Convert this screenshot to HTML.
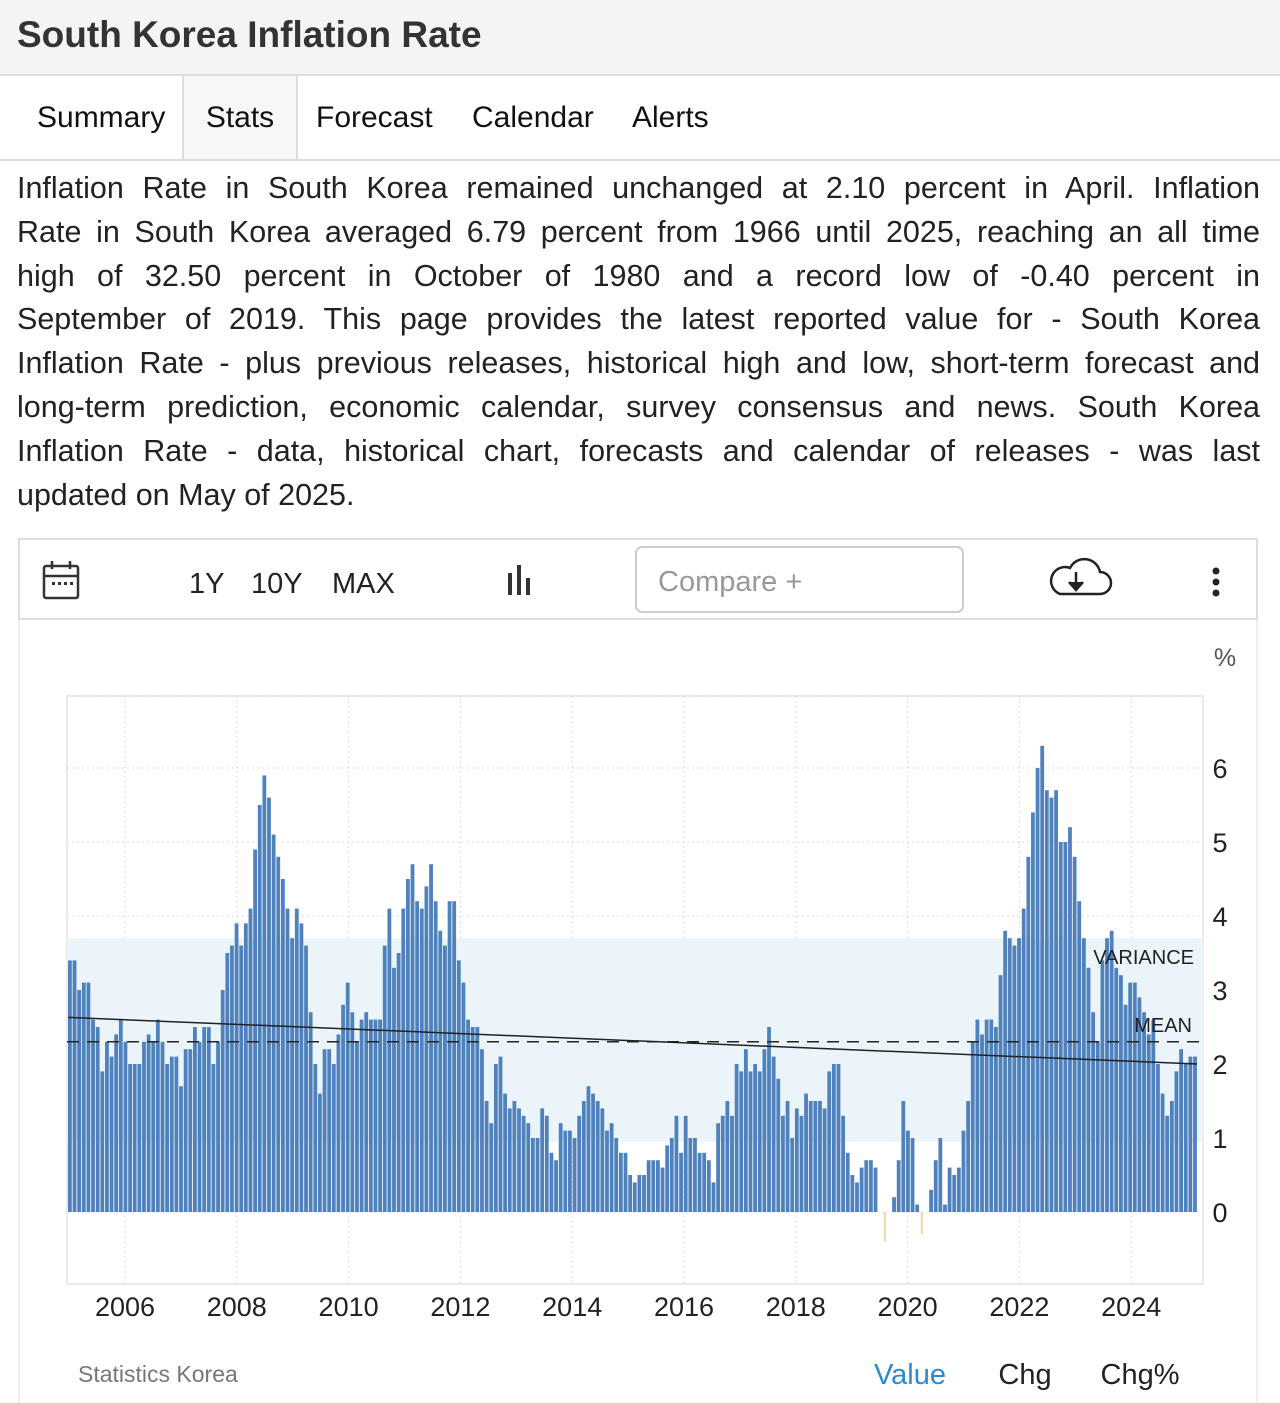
<!DOCTYPE html>
<html><head><meta charset="utf-8">
<style>
body{margin:0;width:1280px;height:1403px;overflow:hidden;background:#fff;font-family:"Liberation Sans",sans-serif;color:#222;}
.hdr{position:absolute;left:0;top:0;width:1280px;height:74px;background:#f4f4f4;border-bottom:2px solid #ddd;}
.hdr h1{margin:0;position:absolute;left:17px;top:14px;font-size:37px;font-weight:bold;color:#333;}
.tabs{position:absolute;top:76px;left:0;width:1280px;height:83px;border-bottom:2px solid #ddd;}
.tab{position:absolute;top:0;height:83px;line-height:83px;font-size:30px;color:#111;}
.para{position:absolute;left:17px;top:167px;width:1243px;font-size:30.5px;line-height:43.8px;color:#222;}
.para div{text-align:justify;text-align-last:justify;white-space:nowrap;}
.para div.last{text-align-last:left;}
.tool{position:absolute;left:18px;top:538px;width:1240px;height:82px;border:2px solid #ddd;box-sizing:border-box;}
.chartbox{position:absolute;left:18px;top:620px;width:1240px;height:783px;border-left:2px solid #eee;border-right:2px solid #eee;box-sizing:border-box;}
</style></head><body>
<div class="hdr"><h1>South Korea Inflation Rate</h1></div>
<div class="tabs">
<div class="tab" style="left:0;width:184px;border-right:2px solid #ddd;box-sizing:border-box;padding-left:37px;">Summary</div>
<div class="tab" style="left:184px;width:112px;border-right:2px solid #ddd;background:#f7f7f7;text-align:center;">Stats</div>
<div class="tab" style="left:316px;">Forecast</div>
<div class="tab" style="left:472px;">Calendar</div>
<div class="tab" style="left:632px;">Alerts</div>
</div>
<div class="para">
<div>Inflation Rate in South Korea remained unchanged at 2.10 percent in April. Inflation</div>
<div>Rate in South Korea averaged 6.79 percent from 1966 until 2025, reaching an all time</div>
<div>high of 32.50 percent in October of 1980 and a record low of -0.40 percent in</div>
<div>September of 2019. This page provides the latest reported value for - South Korea</div>
<div>Inflation Rate - plus previous releases, historical high and low, short-term forecast and</div>
<div>long-term prediction, economic calendar, survey consensus and news. South Korea</div>
<div>Inflation Rate - data, historical chart, forecasts and calendar of releases - was last</div>
<div class="last">updated on May of 2025.</div>
</div>
<div class="tool">
<svg width="1240" height="82" style="position:absolute;left:-2px;top:-2px">
<g fill="none" stroke="#333" stroke-width="2.5"><rect x="26" y="28" width="34" height="32" rx="2"/><line x1="26" y1="38" x2="60" y2="38"/><line x1="34" y1="23" x2="34" y2="31"/><line x1="52" y1="23" x2="52" y2="31"/></g>
<g fill="#333"><rect x="34" y="44" width="3" height="3"/><rect x="40" y="44" width="3" height="3"/><rect x="46" y="44" width="3" height="3"/><rect x="52" y="44" width="3" height="3"/></g>
<text x="171" y="55" font-size="29" fill="#222">1Y</text>
<text x="233" y="55" font-size="29" fill="#222">10Y</text>
<text x="314" y="55" font-size="29" fill="#222">MAX</text>
<g fill="#333"><rect x="490" y="35" width="4" height="22"/><rect x="499" y="27" width="4" height="30"/><rect x="508" y="40" width="4" height="17"/></g>
<rect x="618" y="9" width="327" height="65" rx="6" fill="#fff" stroke="#ccc" stroke-width="2"/>
<text x="640" y="53" font-size="29" fill="#999">Compare +</text>
<g fill="none" stroke="#222" stroke-width="2.5"><path d="M1042 56 h40 a11 11 0 0 0 0-22 a16 16 0 0 0-30-4 a12 12 0 0 0-10 26z"/><line x1="1058" y1="34" x2="1058" y2="50"/><path d="M1051 44 l7 8 l7-8" fill="#222"/></g>
<g fill="#222"><circle cx="1198" cy="33" r="3.5"/><circle cx="1198" cy="44" r="3.5"/><circle cx="1198" cy="55" r="3.5"/></g>
</svg></div>
<div class="chartbox"></div>
<svg id="chart" width="1280" height="1403" style="position:absolute;left:0;top:0"></svg>
<script>
const years=['2006','2008','2010','2012','2014','2016','2018','2020','2022','2024'];
const yTicks=[0,1,2,3,4,5,6];
const values=[
3.4,3.4,3.0,3.1,3.1,2.6,2.5,1.9,2.3,2.1,2.4,2.6,
2.3,2.0,2.0,2.0,2.3,2.4,2.3,2.6,2.3,2.0,2.1,2.1,
1.7,2.2,2.2,2.5,2.3,2.5,2.5,2.0,2.3,3.0,3.5,3.6,
3.9,3.6,3.9,4.1,4.9,5.5,5.9,5.6,5.1,4.8,4.5,4.1,
3.7,4.1,3.9,3.6,2.7,2.0,1.6,2.2,2.2,2.0,2.4,2.8,
3.1,2.7,2.3,2.6,2.7,2.6,2.6,2.6,3.6,4.1,3.3,3.5,
4.1,4.5,4.7,4.2,4.1,4.4,4.7,4.2,3.8,3.6,4.2,4.2,
3.4,3.1,2.6,2.5,2.5,2.2,1.5,1.2,2.0,2.1,1.6,1.4,
1.5,1.4,1.3,1.2,1.0,1.0,1.4,1.3,0.8,0.7,1.2,1.1,
1.1,1.0,1.3,1.5,1.7,1.6,1.5,1.4,1.1,1.2,1.0,0.8,
0.8,0.5,0.4,0.5,0.5,0.7,0.7,0.7,0.6,0.9,1.0,1.3,
0.8,1.3,1.0,1.0,0.8,0.8,0.7,0.4,1.2,1.3,1.5,1.3,
2.0,1.9,2.2,1.9,2.0,1.9,2.2,2.5,2.1,1.8,1.3,1.5,
1.0,1.4,1.3,1.6,1.5,1.5,1.5,1.4,1.9,2.0,2.0,1.3,
0.8,0.5,0.4,0.6,0.7,0.7,0.6,0.0,-0.4,0.0,0.2,0.7,
1.5,1.1,1.0,0.1,-0.3,0.0,0.3,0.7,1.0,0.1,0.6,0.5,
0.6,1.1,1.5,2.3,2.6,2.4,2.6,2.6,2.5,3.2,3.8,3.7,
3.6,3.7,4.1,4.8,5.4,6.0,6.3,5.7,5.6,5.7,5.0,5.0,
5.2,4.8,4.2,3.7,3.3,2.7,2.3,3.4,3.7,3.8,3.3,3.2,
2.8,3.1,3.1,2.9,2.7,2.4,2.6,2.0,1.6,1.3,1.5,1.9,
2.2,2.0,2.1,2.1];
const meanValue=[2.3];
const varianceBand=[0.95,3.7];
const trendEnds=[2.63,2.0];
const NS='http://www.w3.org/2000/svg';
const svg=document.getElementById('chart');
const L=67,R=1203,T=696,B=1284;
const y=v=>1212-v*74;
const x=i=>68+i*4.63;
function mk(t,a,p){const e=document.createElementNS(NS,t);for(const k in a)e.setAttribute(k,a[k]);(p||svg).appendChild(e);return e;}
const frame=mk('rect',{x:L,y:T,width:R-L,height:B-T,fill:'none',stroke:'#e4e4e4','stroke-width':1.5});


yTicks.forEach(v=>{
 const g=mk('line',{x1:L,x2:R,y1:y(v),y2:y(v),stroke:'#ddd','stroke-dasharray':'2,3'});
 
 
 const t=mk('text',{x:1220,y:y(v)+10,'font-size':27,'text-anchor':'middle',fill:'#222'});
 t.textContent=v;
 
 
});
mk('line',{x1:L,x2:R,y1:T,y2:T,stroke:'#ddd','stroke-dasharray':'2,3'});
years.forEach((yr,k)=>{
 const xi=125+k*111.8;
 const g=mk('line',{x1:xi,x2:xi,y1:T,y2:B,stroke:'#ddd','stroke-dasharray':'2,3'});
 
 
 const t=mk('text',{x:xi,y:1316,'font-size':27,'text-anchor':'middle',fill:'#222'});
 t.textContent=yr;
 
 
});
const band=mk('rect',{x:L,y:y(varianceBand[1]),width:R-L,height:y(varianceBand[0])-y(varianceBand[1]),fill:'#eaf4f9'});


values.forEach((v,i)=>{
 const neg=v<0;
 const r=mk('rect',{x:neg?x(i)+0.8:x(i),y:neg?y(0):y(v),width:neg?2.2:3.8,height:Math.max(Math.abs(y(v)-y(0)),0.01),fill:neg?'#f3d9a8':'#4f81bd'});
 
 
});
const ml=mk('line',{x1:L,x2:R,y1:y(meanValue[0]),y2:y(meanValue[0]),stroke:'#222','stroke-width':1.5,'stroke-dasharray':'12,8'});


const tl=mk('line',{x1:x(0),x2:x(values.length-1)+4,y1:y(trendEnds[0]),y2:y(trendEnds[1]),stroke:'#222','stroke-width':1.5});


const vt=mk('text',{x:1194,y:964,'font-size':20,'text-anchor':'end',fill:'#222'});vt.textContent='VARIANCE';


const mt=mk('text',{x:1192,y:1032,'font-size':20,'text-anchor':'end',fill:'#222'});mt.textContent='MEAN';


const pc=mk('text',{x:1225,y:666,'font-size':25,'text-anchor':'middle',fill:'#555'});pc.textContent='%';


const src=mk('text',{x:78,y:1382,'font-size':23,fill:'#777'});src.textContent='Statistics Korea';


[['Value',910,'#2a8ad4','value-toggle'],['Chg',1025,'#222','chg-toggle'],['Chg%',1140,'#222','chg-pct-toggle']].forEach(d=>{
 const t=mk('text',{x:d[1],y:1384,'font-size':29,'text-anchor':'middle',fill:d[2]});t.textContent=d[0];
 
 
});
</script>
</body></html>
